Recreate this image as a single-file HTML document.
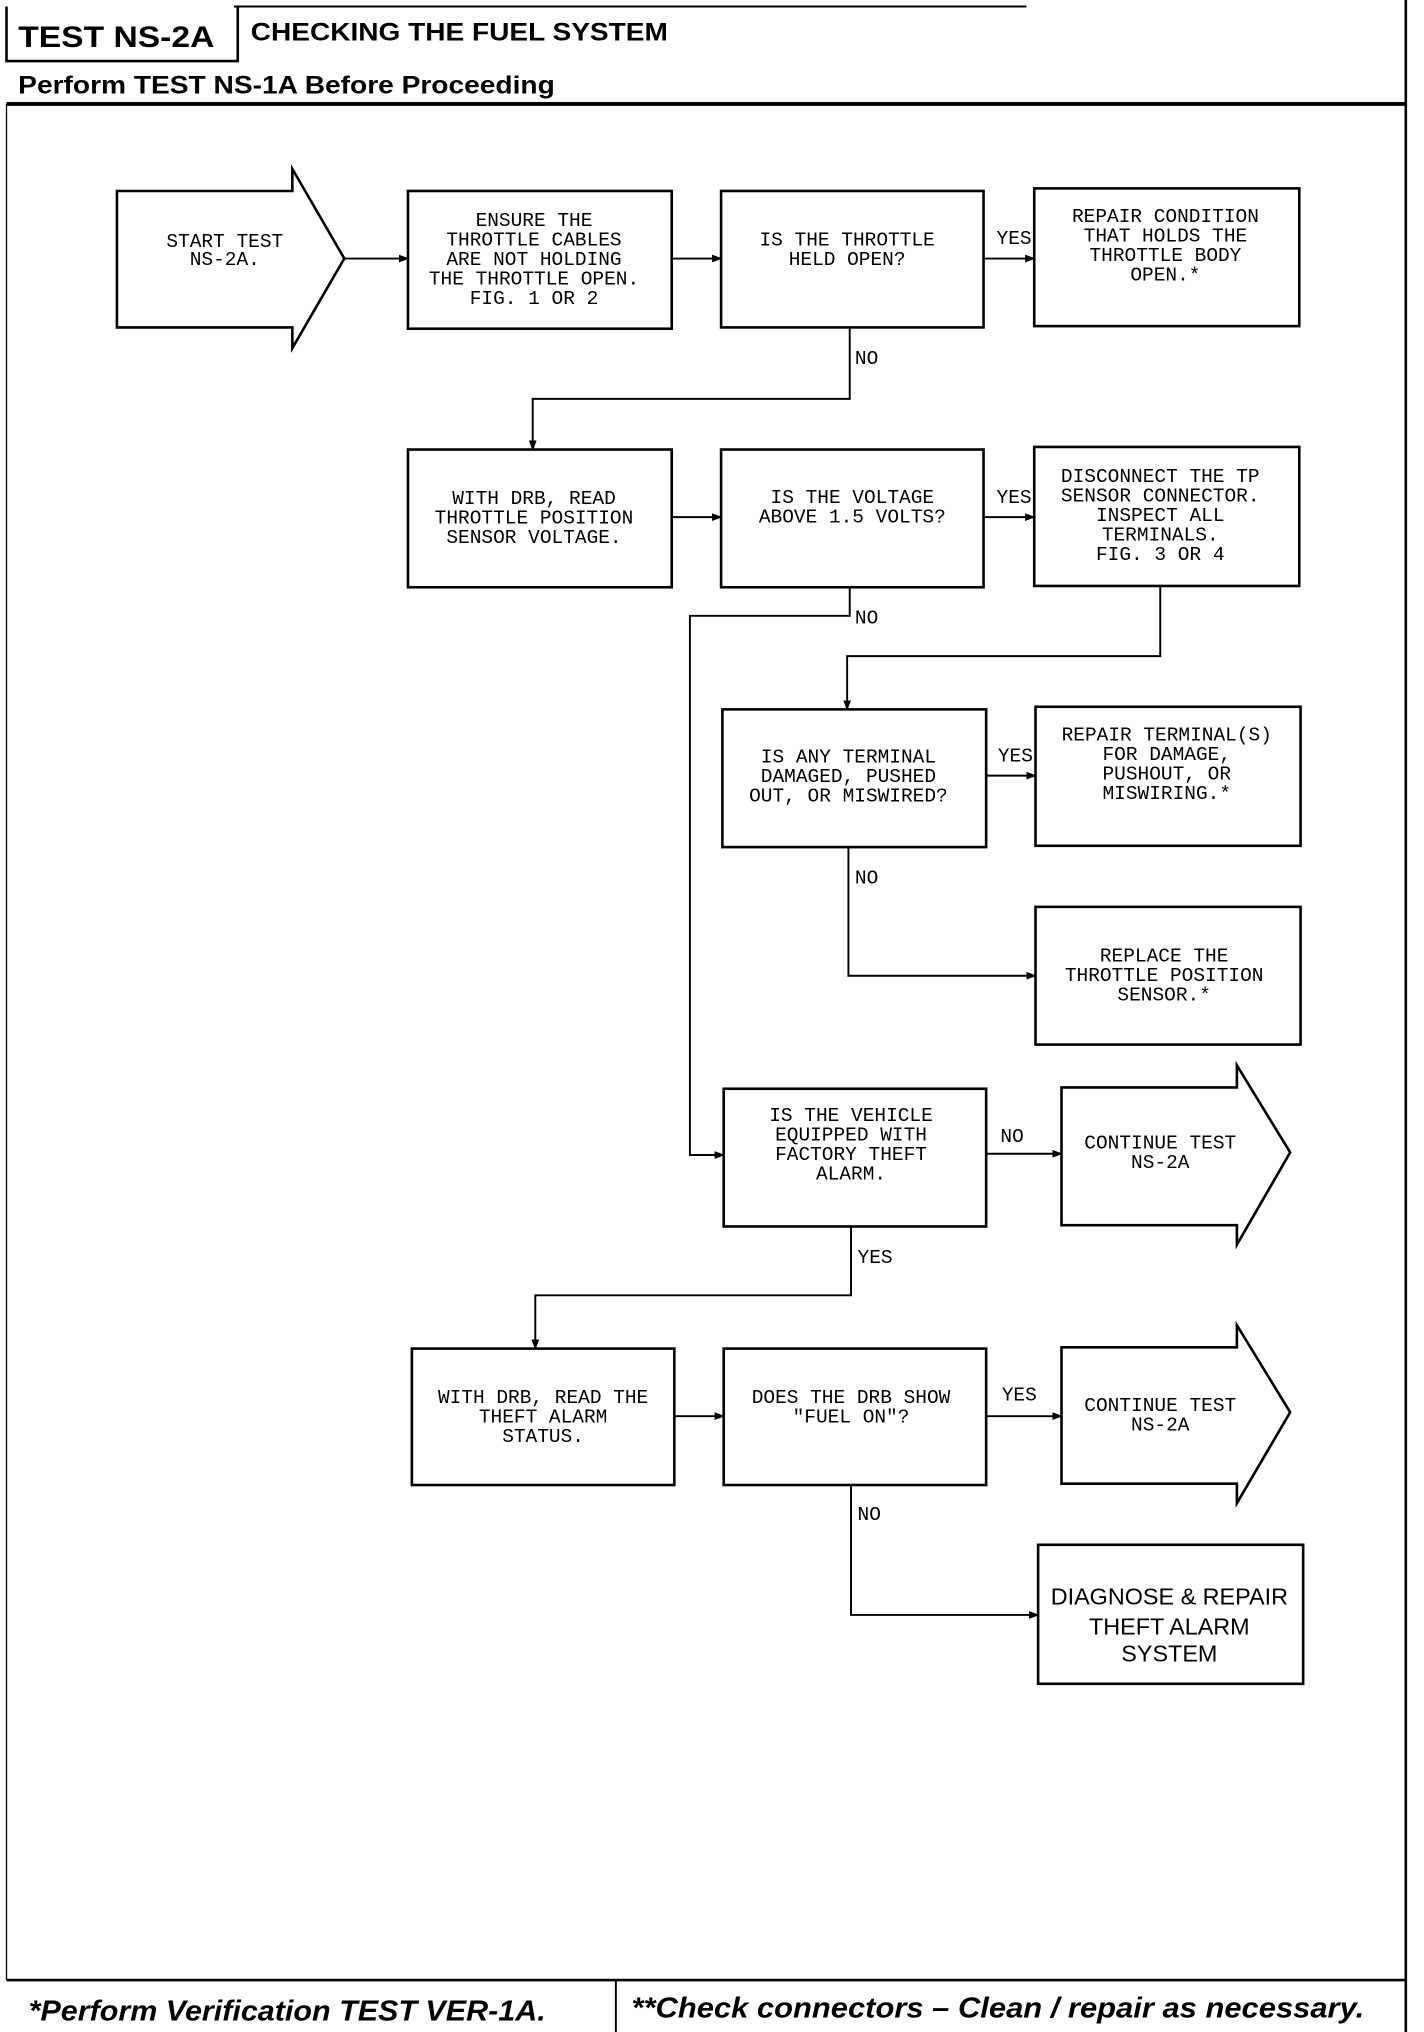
<!DOCTYPE html>
<html><head><meta charset="utf-8"><style>
html,body{margin:0;padding:0;background:#fff}
svg{display:block}
.m{font-family:"Liberation Mono",monospace;font-size:15px;fill:#000}
.b{font-family:"Liberation Sans",sans-serif;font-weight:bold;fill:#000}
</style></head><body>
<svg width="1424" height="2032" viewBox="0 0 1096 1564" preserveAspectRatio="none" xmlns="http://www.w3.org/2000/svg">
<defs><marker id="a" markerWidth="8" markerHeight="8" refX="7" refY="4" orient="auto" markerUnits="userSpaceOnUse"><path d="M0,1 L8,4 L0,7z" fill="#000"/></marker></defs>
<g stroke="#000" fill="none" stroke-width="2">
<line x1="180" y1="5" x2="790" y2="5" stroke-width="1.5"/>
<polyline points="5,5 5,47 183,47 183,5"/>
<line x1="5" y1="80" x2="1082" y2="80" stroke-width="3"/>
<line x1="1082" y1="0" x2="1082" y2="1564"/>
<line x1="5" y1="80" x2="5" y2="1524" stroke-width="1"/>
<line x1="5" y1="1524" x2="1082" y2="1524"/>
<line x1="474" y1="1524" x2="474" y2="1564" stroke-width="1.5"/>
<polygon points="90,147 225,147 225,130 265,199 225,268 225,252 90,252"/>
<rect x="314" y="147" width="203" height="106"/>
<rect x="555" y="147" width="202" height="105"/>
<rect x="796" y="145" width="204" height="106"/>
<rect x="314" y="346" width="203" height="106"/>
<rect x="555" y="346" width="202" height="106"/>
<rect x="796" y="344" width="204" height="107"/>
<rect x="556" y="546" width="203" height="106"/>
<rect x="797" y="544" width="204" height="107"/>
<rect x="797" y="698" width="204" height="106"/>
<rect x="557" y="838" width="202" height="106"/>
<polygon points="817,837 952,837 952,820 993,887 952,958 952,943 817,943"/>
<rect x="317" y="1038" width="202" height="105"/>
<rect x="557" y="1038" width="202" height="105"/>
<polygon points="817,1037 952,1037 952,1020 993,1087 952,1157 952,1142 817,1142"/>
<rect x="799" y="1189" width="204" height="107"/>
</g>
<g stroke="#000" fill="none" stroke-width="1.5" marker-end="url(#a)">
<line x1="265" y1="199" x2="314" y2="199"/>
<line x1="517" y1="199" x2="555" y2="199"/>
<line x1="757" y1="199" x2="796" y2="199"/>
<polyline points="654,252 654,307 410,307 410,346"/>
<line x1="517" y1="398" x2="555" y2="398"/>
<line x1="757" y1="398" x2="796" y2="398"/>
<polyline points="654,452 654,474 531,474 531,889 557,889"/>
<polyline points="893,451 893,505 652,505 652,546"/>
<line x1="759" y1="597" x2="797" y2="597"/>
<polyline points="653,652 653,751 797,751"/>
<line x1="759" y1="888" x2="817" y2="888"/>
<polyline points="655,944 655,997 412,997 412,1038"/>
<line x1="519" y1="1090" x2="557" y2="1090"/>
<line x1="759" y1="1090" x2="817" y2="1090"/>
<polyline points="655,1143 655,1243 799,1243"/>
</g>
<text class="b" x="14" y="36" font-size="23" textLength="151" lengthAdjust="spacingAndGlyphs">TEST NS-2A</text>
<text class="b" x="193" y="31" font-size="19" textLength="321" lengthAdjust="spacingAndGlyphs">CHECKING THE FUEL SYSTEM</text>
<text class="b" x="14" y="72" font-size="19" textLength="413" lengthAdjust="spacingAndGlyphs">Perform TEST NS-1A Before Proceeding</text>
<text class="b" x="22" y="1555" font-size="22" font-style="italic" textLength="398" lengthAdjust="spacingAndGlyphs">*Perform Verification TEST VER-1A.</text>
<text class="b" x="486" y="1553" font-size="22" font-style="italic" textLength="564" lengthAdjust="spacingAndGlyphs">**Check connectors – Clean / repair as necessary.</text>
<g class="m" text-anchor="middle">
<text x="173" y="190">START TEST</text><text x="173" y="204">NS-2A.</text>
<text x="411" y="174">ENSURE THE</text><text x="411" y="189">THROTTLE CABLES</text><text x="411" y="204">ARE NOT HOLDING</text><text x="411" y="219">THE THROTTLE OPEN.</text><text x="411" y="234">FIG. 1 OR 2</text>
<text x="652" y="189">IS THE THROTTLE</text><text x="652" y="204">HELD OPEN?</text>
<text x="897" y="171">REPAIR CONDITION</text><text x="897" y="186">THAT HOLDS THE</text><text x="897" y="201">THROTTLE BODY</text><text x="897" y="216">OPEN.*</text>
<text x="411" y="388">WITH DRB, READ</text><text x="411" y="403">THROTTLE POSITION</text><text x="411" y="418">SENSOR VOLTAGE.</text>
<text x="656" y="387">IS THE VOLTAGE</text><text x="656" y="402">ABOVE 1.5 VOLTS?</text>
<text x="893" y="371">DISCONNECT THE TP</text><text x="893" y="386">SENSOR CONNECTOR.</text><text x="893" y="401">INSPECT ALL</text><text x="893" y="416">TERMINALS.</text><text x="893" y="431">FIG. 3 OR 4</text>
<text x="653" y="587">IS ANY TERMINAL</text><text x="653" y="602">DAMAGED, PUSHED</text><text x="653" y="617">OUT, OR MISWIRED?</text>
<text x="898" y="570">REPAIR TERMINAL(S)</text><text x="898" y="585">FOR DAMAGE,</text><text x="898" y="600">PUSHOUT, OR</text><text x="898" y="615">MISWIRING.*</text>
<text x="896" y="740">REPLACE THE</text><text x="896" y="755">THROTTLE POSITION</text><text x="896" y="770">SENSOR.*</text>
<text x="655" y="863">IS THE VEHICLE</text><text x="655" y="878">EQUIPPED WITH</text><text x="655" y="893">FACTORY THEFT</text><text x="655" y="908">ALARM.</text>
<text x="893" y="884">CONTINUE TEST</text><text x="893" y="899">NS-2A</text>
<text x="418" y="1080">WITH DRB, READ THE</text><text x="418" y="1095">THEFT ALARM</text><text x="418" y="1110">STATUS.</text>
<text x="655" y="1080">DOES THE DRB SHOW</text><text x="655" y="1095">"FUEL ON"?</text>
<text x="893" y="1086">CONTINUE TEST</text><text x="893" y="1101">NS-2A</text>
</g>
<g class="m" font-size="14">
<text x="767" y="188">YES</text><text x="658" y="280">NO</text>
<text x="767" y="387">YES</text><text x="658" y="480">NO</text>
<text x="768" y="586">YES</text><text x="658" y="680">NO</text>
<text x="770" y="879">NO</text><text x="660" y="972">YES</text>
<text x="771" y="1078">YES</text><text x="660" y="1170">NO</text>
</g>
<g font-family="Liberation Sans,sans-serif" font-size="18" text-anchor="middle">
<text x="900" y="1235">DIAGNOSE &amp; REPAIR</text><text x="900" y="1258">THEFT ALARM</text><text x="900" y="1279">SYSTEM</text>
</g>
</svg>
</body></html>
